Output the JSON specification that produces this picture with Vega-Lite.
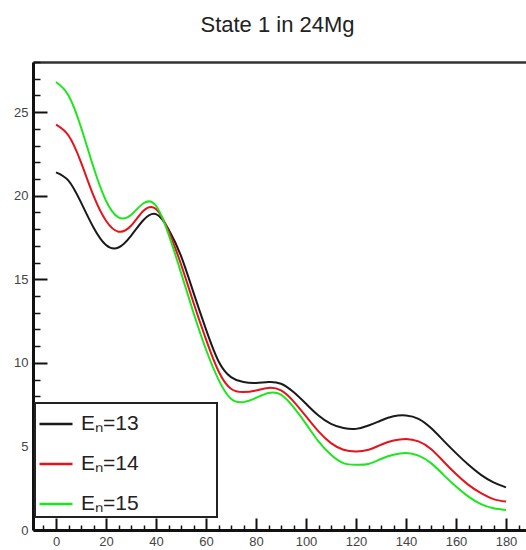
{
  "$schema": "https://vega.github.io/schema/vega-lite/v6.json",
  "width": 493,
  "height": 468,
  "autosize": {"type": "none"},
  "padding": {"left": 33, "top": 62, "right": 0, "bottom": 20},
  "background": "white",
  "title": {
    "text": "State 1 in 24Mg",
    "anchor": "middle",
    "frame": "group",
    "font": "Liberation Sans, Arial, sans-serif",
    "fontSize": 22,
    "fontWeight": "normal",
    "color": "#222222",
    "baseline": "alphabetic",
    "offset": 7,
    "dx": -2
  },
  "config": {
    "view": {"stroke": null},
    "axis": {"grid": false, "title": null}
  },
  "data": {
    "values": [
      {"x": 0, "y": 21.4, "s": "Eₙ=13"}, {"x": 5, "y": 20.9, "s": "Eₙ=13"}, {"x": 10, "y": 19.6, "s": "Eₙ=13"},
      {"x": 15, "y": 18.1, "s": "Eₙ=13"}, {"x": 20, "y": 17.05, "s": "Eₙ=13"}, {"x": 25, "y": 16.9, "s": "Eₙ=13"},
      {"x": 30, "y": 17.6, "s": "Eₙ=13"}, {"x": 35, "y": 18.55, "s": "Eₙ=13"}, {"x": 40, "y": 18.9, "s": "Eₙ=13"},
      {"x": 45, "y": 18.0, "s": "Eₙ=13"}, {"x": 50, "y": 16.4, "s": "Eₙ=13"}, {"x": 55, "y": 14.2, "s": "Eₙ=13"},
      {"x": 60, "y": 12.0, "s": "Eₙ=13"}, {"x": 65, "y": 10.1, "s": "Eₙ=13"}, {"x": 70, "y": 9.15, "s": "Eₙ=13"},
      {"x": 75, "y": 8.85, "s": "Eₙ=13"}, {"x": 80, "y": 8.8, "s": "Eₙ=13"}, {"x": 85, "y": 8.85, "s": "Eₙ=13"},
      {"x": 90, "y": 8.75, "s": "Eₙ=13"}, {"x": 95, "y": 8.25, "s": "Eₙ=13"}, {"x": 100, "y": 7.55, "s": "Eₙ=13"},
      {"x": 105, "y": 6.85, "s": "Eₙ=13"}, {"x": 110, "y": 6.35, "s": "Eₙ=13"}, {"x": 115, "y": 6.1, "s": "Eₙ=13"},
      {"x": 120, "y": 6.05, "s": "Eₙ=13"}, {"x": 125, "y": 6.25, "s": "Eₙ=13"}, {"x": 130, "y": 6.55, "s": "Eₙ=13"},
      {"x": 135, "y": 6.8, "s": "Eₙ=13"}, {"x": 140, "y": 6.85, "s": "Eₙ=13"}, {"x": 145, "y": 6.65, "s": "Eₙ=13"},
      {"x": 150, "y": 6.1, "s": "Eₙ=13"}, {"x": 155, "y": 5.35, "s": "Eₙ=13"}, {"x": 160, "y": 4.6, "s": "Eₙ=13"},
      {"x": 165, "y": 3.9, "s": "Eₙ=13"}, {"x": 170, "y": 3.3, "s": "Eₙ=13"}, {"x": 175, "y": 2.85, "s": "Eₙ=13"},
      {"x": 180, "y": 2.55, "s": "Eₙ=13"},

      {"x": 0, "y": 24.25, "s": "Eₙ=14"}, {"x": 5, "y": 23.6, "s": "Eₙ=14"}, {"x": 10, "y": 22.0, "s": "Eₙ=14"},
      {"x": 15, "y": 20.0, "s": "Eₙ=14"}, {"x": 20, "y": 18.5, "s": "Eₙ=14"}, {"x": 25, "y": 17.85, "s": "Eₙ=14"},
      {"x": 30, "y": 18.2, "s": "Eₙ=14"}, {"x": 35, "y": 19.1, "s": "Eₙ=14"}, {"x": 40, "y": 19.2, "s": "Eₙ=14"},
      {"x": 45, "y": 17.9, "s": "Eₙ=14"}, {"x": 50, "y": 15.9, "s": "Eₙ=14"}, {"x": 55, "y": 13.6, "s": "Eₙ=14"},
      {"x": 60, "y": 11.4, "s": "Eₙ=14"}, {"x": 65, "y": 9.5, "s": "Eₙ=14"}, {"x": 70, "y": 8.45, "s": "Eₙ=14"},
      {"x": 75, "y": 8.25, "s": "Eₙ=14"}, {"x": 80, "y": 8.35, "s": "Eₙ=14"}, {"x": 85, "y": 8.5, "s": "Eₙ=14"},
      {"x": 90, "y": 8.35, "s": "Eₙ=14"}, {"x": 95, "y": 7.7, "s": "Eₙ=14"}, {"x": 100, "y": 6.8, "s": "Eₙ=14"},
      {"x": 105, "y": 5.9, "s": "Eₙ=14"}, {"x": 110, "y": 5.2, "s": "Eₙ=14"}, {"x": 115, "y": 4.8, "s": "Eₙ=14"},
      {"x": 120, "y": 4.7, "s": "Eₙ=14"}, {"x": 125, "y": 4.8, "s": "Eₙ=14"}, {"x": 130, "y": 5.1, "s": "Eₙ=14"},
      {"x": 135, "y": 5.35, "s": "Eₙ=14"}, {"x": 140, "y": 5.45, "s": "Eₙ=14"}, {"x": 145, "y": 5.3, "s": "Eₙ=14"},
      {"x": 150, "y": 4.85, "s": "Eₙ=14"}, {"x": 155, "y": 4.1, "s": "Eₙ=14"}, {"x": 160, "y": 3.35, "s": "Eₙ=14"},
      {"x": 165, "y": 2.7, "s": "Eₙ=14"}, {"x": 170, "y": 2.2, "s": "Eₙ=14"}, {"x": 175, "y": 1.85, "s": "Eₙ=14"},
      {"x": 180, "y": 1.7, "s": "Eₙ=14"},

      {"x": 0, "y": 26.8, "s": "Eₙ=15"}, {"x": 5, "y": 26.0, "s": "Eₙ=15"}, {"x": 10, "y": 24.1, "s": "Eₙ=15"},
      {"x": 15, "y": 21.7, "s": "Eₙ=15"}, {"x": 20, "y": 19.7, "s": "Eₙ=15"}, {"x": 25, "y": 18.7, "s": "Eₙ=15"},
      {"x": 30, "y": 18.85, "s": "Eₙ=15"}, {"x": 35, "y": 19.55, "s": "Eₙ=15"}, {"x": 40, "y": 19.4, "s": "Eₙ=15"},
      {"x": 45, "y": 17.7, "s": "Eₙ=15"}, {"x": 50, "y": 15.4, "s": "Eₙ=15"}, {"x": 55, "y": 13.0, "s": "Eₙ=15"},
      {"x": 60, "y": 10.8, "s": "Eₙ=15"}, {"x": 65, "y": 9.0, "s": "Eₙ=15"}, {"x": 70, "y": 7.85, "s": "Eₙ=15"},
      {"x": 75, "y": 7.65, "s": "Eₙ=15"}, {"x": 80, "y": 7.9, "s": "Eₙ=15"}, {"x": 85, "y": 8.2, "s": "Eₙ=15"},
      {"x": 90, "y": 8.1, "s": "Eₙ=15"}, {"x": 95, "y": 7.35, "s": "Eₙ=15"}, {"x": 100, "y": 6.35, "s": "Eₙ=15"},
      {"x": 105, "y": 5.3, "s": "Eₙ=15"}, {"x": 110, "y": 4.5, "s": "Eₙ=15"}, {"x": 115, "y": 4.0, "s": "Eₙ=15"},
      {"x": 120, "y": 3.9, "s": "Eₙ=15"}, {"x": 125, "y": 3.95, "s": "Eₙ=15"}, {"x": 130, "y": 4.25, "s": "Eₙ=15"},
      {"x": 135, "y": 4.5, "s": "Eₙ=15"}, {"x": 140, "y": 4.6, "s": "Eₙ=15"}, {"x": 145, "y": 4.45, "s": "Eₙ=15"},
      {"x": 150, "y": 4.0, "s": "Eₙ=15"}, {"x": 155, "y": 3.3, "s": "Eₙ=15"}, {"x": 160, "y": 2.6, "s": "Eₙ=15"},
      {"x": 165, "y": 2.0, "s": "Eₙ=15"}, {"x": 170, "y": 1.55, "s": "Eₙ=15"}, {"x": 175, "y": 1.3, "s": "Eₙ=15"},
      {"x": 180, "y": 1.2, "s": "Eₙ=15"}
    ]
  },
  "layer": [
    {
      "mark": {"type": "line", "interpolate": "natural", "strokeWidth": 2},
      "encoding": {
        "x": {
          "field": "x", "type": "quantitative",
          "scale": {"domain": [-9.2, 188], "nice": false, "zero": false},
          "axis": {
            "orient": "bottom",
            "values": [0, 20, 40, 60, 80, 100, 120, 140, 160, 180],
            "tickSize": -12, "tickWidth": 2, "tickColor": "#111111",
            "domainWidth": 3, "domainColor": "#111111",
            "labelPadding": 17, "labelFontSize": 13, "labelColor": "#444444",
            "labelFont": "Liberation Sans, Arial, sans-serif",
            "labelFlush": false, "labelOverlap": false
          }
        },
        "y": {
          "field": "y", "type": "quantitative",
          "scale": {"domain": [0, 28], "nice": false},
          "axis": {
            "orient": "left",
            "values": [0, 5, 10, 15, 20, 25],
            "tickSize": -14, "tickWidth": 2, "tickColor": "#111111",
            "domainWidth": 3, "domainColor": "#111111",
            "labelPadding": 19, "labelFontSize": 13, "labelColor": "#444444",
            "labelFont": "Liberation Sans, Arial, sans-serif",
            "labelFlush": false, "labelOverlap": false
          }
        },
        "color": {
          "field": "s", "type": "nominal",
          "scale": {"domain": ["Eₙ=13", "Eₙ=14", "Eₙ=15"], "range": ["#1a1a1a", "#e3141c", "#1ee61e"]},
          "legend": {
            "title": null,
            "orient": "none",
            "legendX": 2,
            "legendY": 341,
            "padding": 3,
            "fillColor": "white",
            "strokeColor": "#222222",
            "symbolType": "stroke",
            "symbolSize": 1089,
            "symbolStrokeWidth": 2.5,
            "labelFontSize": 21,
            "labelColor": "#222222",
            "labelFont": "Liberation Sans, Arial, sans-serif",
            "labelOffset": 7,
            "labelLimit": 400,
            "rowPadding": 12,
            "labelExpr": "datum.label + '\u2800\u2800\u2800\u2800\u2800'",
            "encode": {
              "legend": {"update": {"strokeWidth": {"value": 2}}}
            }
          }
        }
      }
    },
    {
      "mark": {"type": "line", "strokeOpacity": 0},
      "encoding": {
        "x": {
          "field": "x", "type": "quantitative",
          "scale": {"domain": [-9.2, 188], "nice": false, "zero": false},
          "axis": {
            "orient": "bottom",
            "values": [-5, 5, 10, 15, 25, 30, 35, 45, 50, 55, 65, 70, 75, 85, 90, 95, 105, 110, 115, 125, 130, 135, 145, 150, 155, 165, 170, 175, 185],
            "tickSize": -5, "tickWidth": 1.5, "tickColor": "#111111",
            "domain": false, "labels": false
          }
        },
        "y": {
          "field": "y", "type": "quantitative",
          "scale": {"domain": [0, 28], "nice": false},
          "axis": {
            "orient": "left",
            "values": [1, 2, 3, 4, 6, 7, 8, 9, 11, 12, 13, 14, 16, 17, 18, 19, 21, 22, 23, 24, 26, 27, 28],
            "tickSize": -7, "tickWidth": 1.5, "tickColor": "#111111",
            "domain": false, "labels": false
          }
        },
        "detail": {"field": "s", "type": "nominal"}
      }
    },
    {
      "mark": {"type": "line", "strokeOpacity": 0},
      "encoding": {
        "x": {
          "field": "x", "type": "quantitative",
          "scale": {"domain": [-9.2, 188], "nice": false, "zero": false},
          "axis": {
            "orient": "top",
            "ticks": false, "labels": false,
            "domainWidth": 2.5, "domainColor": "#333333"
          }
        },
        "y": {"field": "y", "type": "quantitative", "axis": null},
        "detail": {"field": "s", "type": "nominal"}
      }
    }
  ],
  "resolve": {"axis": {"x": "independent", "y": "independent"}}
}
